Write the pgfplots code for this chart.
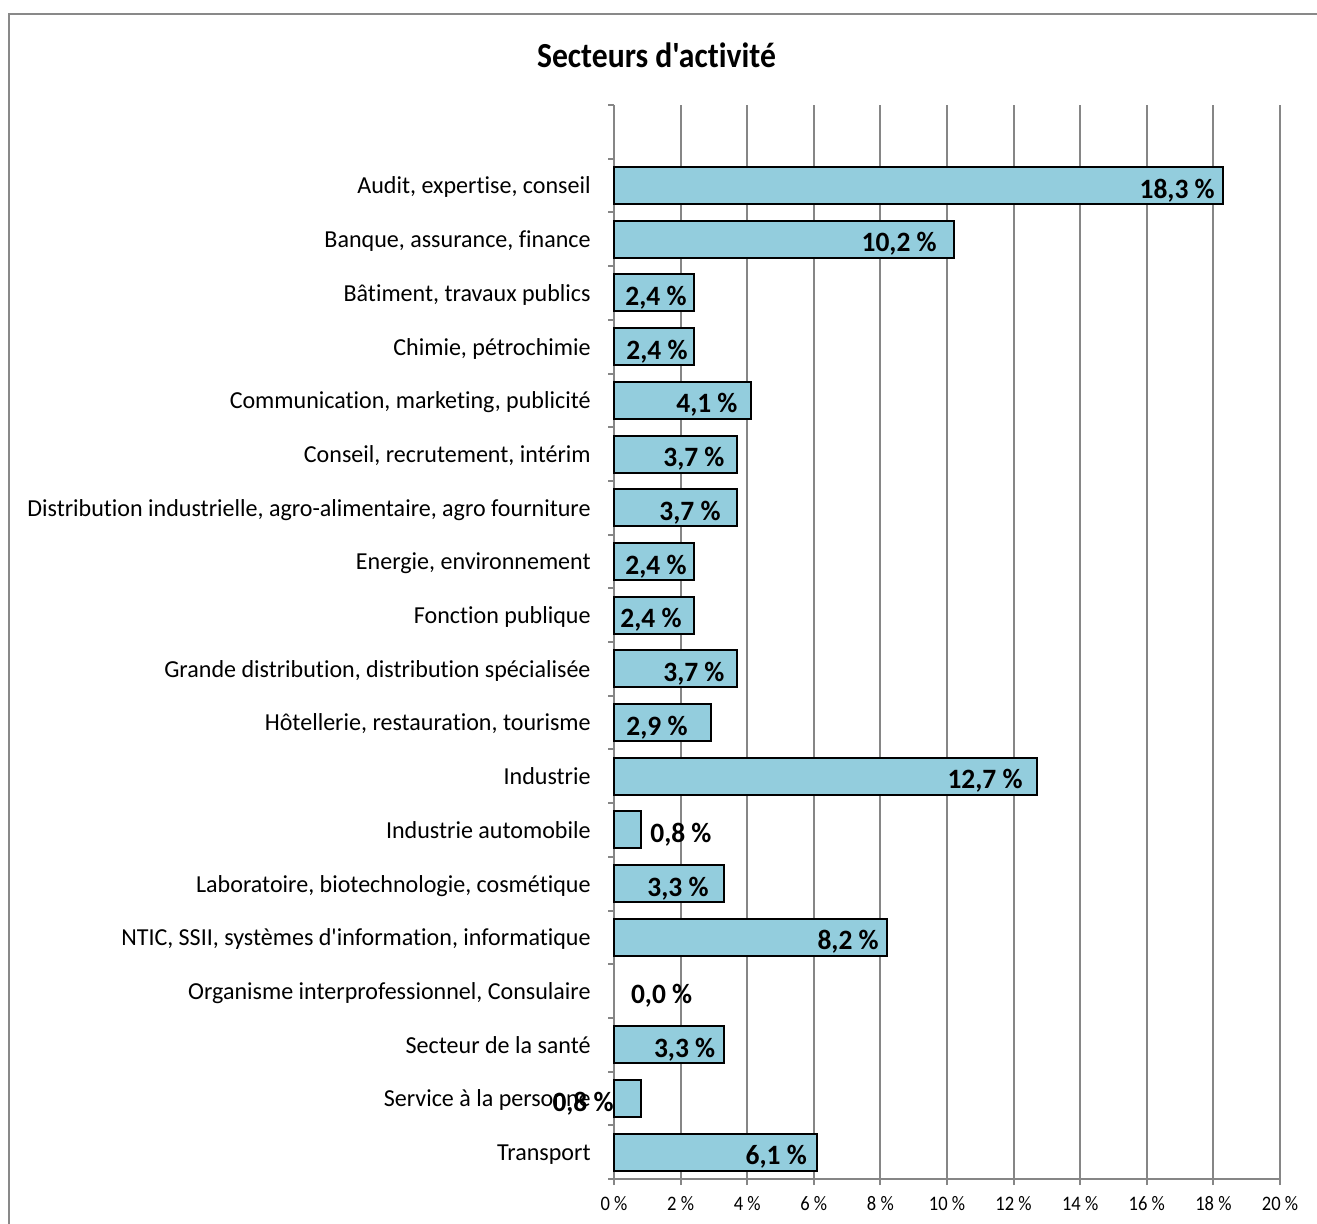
\documentclass[border=0pt]{standalone}
\usepackage{fontspec}
\setmainfont{Carlito}[Ligatures=NoCommon]
\newfontfamily\titlefont{Carlito}[FakeStretch=0.9, Ligatures=NoCommon]
\newfontfamily\catfont{Carlito}[FakeStretch=0.985, Ligatures=NoCommon]
\newfontfamily\lblfont{Carlito}[FakeStretch=0.98, Ligatures=NoCommon]
\newfontfamily\tickfont{Carlito}[FakeStretch=0.9, Ligatures=NoCommon]
\usepackage{pgfplots}
\pgfplotsset{compat=1.18}
\definecolor{barblue}{HTML}{93CDDD}
\definecolor{gridgray}{HTML}{868686}
\definecolor{framegray}{HTML}{898989}
\tikzset{lbl/.style={font=\lblfont\bfseries\fontsize{14}{16}\selectfont, inner sep=0pt, yshift=-6.3pt}}
\begin{document}
\begin{tikzpicture}
\useasboundingbox (0,0) rectangle (658.5pt,611.5pt);
\draw[framegray, line width=1pt] (4.5pt,-20pt) -- (4.5pt,604.25pt) -- (700pt,604.25pt);
\node[font=\titlefont\bfseries\fontsize{17.6}{20}\selectfont, anchor=base, inner sep=0pt] at (328.25pt,577.5pt) {Secteurs d'activité};
\begin{axis}[
  at={(307pt,22pt)}, anchor=south west, scale only axis,
  width=333pt, height=537pt,
  xmin=0, xmax=20, ymin=0.5, ymax=20.5,
  axis x line*=bottom, axis y line*=left,
  axis line style={gridgray, line width=1pt, -},
  xmajorgrids, grid style={gridgray, line width=1pt},
  tick align=outside, major tick length=3pt,
  tick style={gridgray, line width=1pt},
  xtick={0,2,...,20},
  xticklabels={0~\%,2~\%,4~\%,6~\%,8~\%,10~\%,12~\%,14~\%,16~\%,18~\%,20~\%},
  xticklabel style={font=\tickfont\fontsize{10.3}{12}\selectfont, anchor=base, inner sep=0pt, yshift=-12.5pt},
  ytick={0.5,1.5,...,20.5}, yticklabels={},
  extra y ticks={1,2,...,19},
  extra y tick labels={{Transport},{Service à la personne},{Secteur de la santé},{Organisme interprofessionnel, Consulaire},{NTIC, SSII, systèmes d'information, informatique},{Laboratoire, biotechnologie, cosmétique},{Industrie automobile},{Industrie},{Hôtellerie, restauration, tourisme},{Grande distribution, distribution spécialisée},{Fonction publique},{Energie, environnement},{Distribution industrielle, agro-alimentaire, agro fourniture},{Conseil, recrutement, intérim},{Communication, marketing, publicité},{Chimie, pétrochimie},{Bâtiment, travaux publics},{Banque, assurance, finance},{Audit, expertise, conseil}},
  extra y tick style={tick style={draw=none}, grid=none},
  yticklabel style={font=\catfont\fontsize{12.2}{14}\selectfont, anchor=base east, inner sep=0pt, xshift=-8.5pt, yshift=-4.2pt},
  clip=false,
]
\addplot[xbar, bar width=18.5pt, fill=barblue, draw=black, line width=1pt] coordinates {
(6.1,1) (0.8,2) (3.3,3) (8.2,5) (3.3,6) (0.8,7) (12.7,8) (2.9,9) (3.7,10)
(2.4,11) (2.4,12) (3.7,13) (3.7,14) (4.1,15) (2.4,16) (2.4,17) (10.2,18) (18.3,19)};
\node[lbl, anchor=base east] at (axis cs:18.05,19) {18,3~\%};
\node[lbl, anchor=base east] at (axis cs:9.70,18) {10,2~\%};
\node[lbl, anchor=base east] at (axis cs:2.19,17) {2,4~\%};
\node[lbl, anchor=base east] at (axis cs:2.22,16) {2,4~\%};
\node[lbl, anchor=base east] at (axis cs:3.72,15) {4,1~\%};
\node[lbl, anchor=base east] at (axis cs:3.33,14) {3,7~\%};
\node[lbl, anchor=base east] at (axis cs:3.21,13) {3,7~\%};
\node[lbl, anchor=base east] at (axis cs:2.19,12) {2,4~\%};
\node[lbl, anchor=base east] at (axis cs:2.04,11) {2,4~\%};
\node[lbl, anchor=base east] at (axis cs:3.33,10) {3,7~\%};
\node[lbl, anchor=base east] at (axis cs:2.22,9) {2,9~\%};
\node[lbl, anchor=base east] at (axis cs:12.28,8) {12,7~\%};
\node[lbl, anchor=base west] at (axis cs:1.08,7) {0,8~\%};
\node[lbl, anchor=base east] at (axis cs:2.85,6) {3,3~\%};
\node[lbl, anchor=base east] at (axis cs:7.96,5) {8,2~\%};
\node[lbl, anchor=base west] at (axis cs:0.50,4) {0,0~\%};
\node[lbl, anchor=base east] at (axis cs:3.05,3) {3,3~\%};
\node[lbl, anchor=base east] at (axis cs:0.0,2) {0,8~\%};
\node[lbl, anchor=base east] at (axis cs:5.80,1) {6,1~\%};
\end{axis}
\end{tikzpicture}
\end{document}
